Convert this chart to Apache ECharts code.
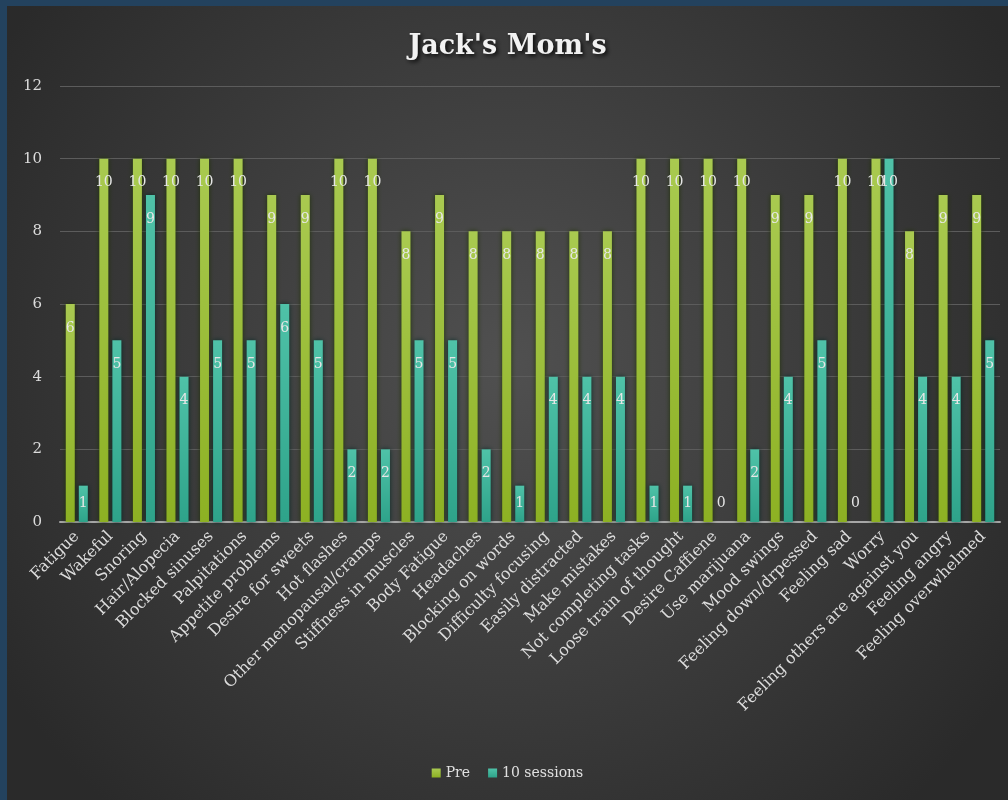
<!DOCTYPE html>
<html>
<head>
<meta charset="utf-8">
<script src="https://cdn.jsdelivr.net/npm/echarts@6/dist/echarts.min.js"></script>
<style>
  html, body { margin: 0; padding: 0; background: #23425e; width: 1008px; height: 800px; overflow: hidden; }
  #chart { position: absolute; left: 7px; top: 6px; width: 1001px; height: 794px; }
</style>
</head>
<body>
<div id="chart"></div>
<script>
// Symptom categories (x axis)
const categories = [
  'Fatigue', 'Wakeful', 'Snoring', 'Hair/Alopecia', 'Blocked sinuses', 'Palpitations',
  'Appetite problems', 'Desire for sweets', 'Hot flashes', 'Other menopausal/cramps',
  'Stiffness in muscles', 'Body Fatigue', 'Headaches', 'Blocking on words',
  'Difficulty focusing', 'Easily distracted', 'Make mistakes', 'Not completing tasks',
  'Loose train of thought', 'Desire Caffiene', 'Use marijuana', 'Mood swings',
  'Feeling down/drpessed', 'Feeling sad', 'Worry', 'Feeling others are against you',
  'Feeling angry', 'Feeling overwhelmed'
];

// Ratings before treatment
const preValues = [6, 10, 10, 10, 10, 10, 9, 9, 10, 10, 8, 9, 8, 8, 8, 8, 8, 10, 10, 10, 10, 9, 9, 10, 10, 8, 9, 9];

// Ratings after 10 sessions
const sessionValues = [1, 5, 9, 4, 5, 5, 6, 5, 2, 2, 5, 5, 2, 1, 4, 4, 4, 1, 1, 0, 2, 4, 5, 0, 10, 4, 4, 5];

// Value axis ticks
const yTicks = { min: 0, max: 12, interval: 2 };

const FONT = "'DejaVu Serif', serif";
const labelColor = '#e6e6e6';

// Short bars keep their label sitting just above the baseline
function toData(values) {
  return values.map(v => v <= 1
    ? { value: v, label: { position: 'insideBottom', distance: 12 } }
    : { value: v });
}

const chart = echarts.init(document.getElementById('chart'), null, { renderer: 'canvas' });

chart.setOption({
  backgroundColor: {
    type: 'radial', x: 0.5, y: 0.45, r: 0.75,
    colorStops: [
      { offset: 0, color: '#505050' },
      { offset: 1, color: '#2a2a2a' }
    ]
  },
  title: {
    text: "Jack's Mom's",
    left: 'center',
    top: 22,
    textStyle: {
      fontFamily: FONT,
      fontSize: 27,
      fontWeight: 'bold',
      color: '#f2f2f2',
      textShadowColor: 'rgba(0,0,0,0.85)',
      textShadowBlur: 4,
      textShadowOffsetX: 2,
      textShadowOffsetY: 2
    }
  },
  legend: {
    bottom: 15,
    left: 'center',
    itemWidth: 9,
    itemHeight: 9,
    itemGap: 18,
    icon: 'rect',
    textStyle: { fontFamily: FONT, fontSize: 14, color: '#e0e0e0' },
    data: ['Pre', '10 sessions']
  },
  grid: { left: 53, right: 8, top: 80, bottom: 278, containLabel: false },
  xAxis: {
    type: 'category',
    data: categories,
    axisLine: { lineStyle: { color: '#a6a6a6', width: 2 } },
    axisTick: { show: false },
    axisLabel: {
      interval: 0,
      rotate: 45,
      margin: 12,
      fontFamily: FONT,
      fontSize: 16,
      color: '#dcdcdc'
    }
  },
  yAxis: {
    type: 'value',
    min: yTicks.min,
    max: yTicks.max,
    interval: yTicks.interval,
    axisLine: { show: false },
    axisTick: { show: false },
    splitLine: { lineStyle: { color: '#5c5c5c', width: 1 } },
    axisLabel: { margin: 18, fontFamily: FONT, fontSize: 15, color: '#dcdcdc' }
  },
  series: [
    {
      name: 'Pre',
      type: 'bar',
      data: toData(preValues),
      barWidth: 9,
      barGap: '45%',
      itemStyle: {
        color: {
          type: 'linear', x: 0, y: 0, x2: 0, y2: 1,
          colorStops: [
            { offset: 0, color: '#a9ca50' },
            { offset: 1, color: '#8db123' }
          ]
        },
        shadowColor: 'rgba(30,50,0,0.9)',
        shadowBlur: 5
      },
      label: {
        show: true,
        position: 'insideTop',
        distance: 17,
        fontFamily: FONT,
        fontSize: 14,
        color: labelColor
      }
    },
    {
      name: '10 sessions',
      type: 'bar',
      data: toData(sessionValues),
      barWidth: 9,
      itemStyle: {
        color: {
          type: 'linear', x: 0, y: 0, x2: 0, y2: 1,
          colorStops: [
            { offset: 0, color: '#4fc2a8' },
            { offset: 1, color: '#2ea38a' }
          ]
        },
        shadowColor: 'rgba(0,40,35,0.9)',
        shadowBlur: 5
      },
      label: {
        show: true,
        position: 'insideTop',
        distance: 17,
        fontFamily: FONT,
        fontSize: 14,
        color: labelColor
      }
    }
  ]
});
</script>
</body>
</html>
